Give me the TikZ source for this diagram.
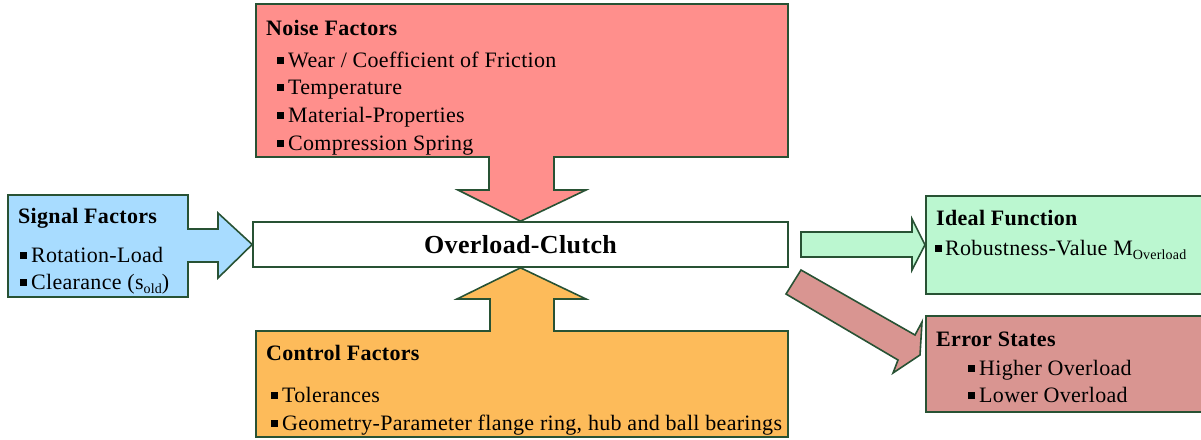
\documentclass[tikz,border=0pt]{standalone}
\usepackage{fontspec}
\setmainfont{Liberation Serif}[LetterSpace=1.4]
\definecolor{bord}{RGB}{40,82,52}
\definecolor{sigcol}{RGB}{168,220,255}
\definecolor{noicol}{RGB}{255,143,140}
\definecolor{ctlcol}{RGB}{253,187,90}
\definecolor{idecol}{RGB}{187,247,208}
\definecolor{errcol}{RGB}{217,149,145}
\newcommand\bulsq{\rule[3.5pt]{7pt}{7pt}}
\newcommand\subtx[1]{\raisebox{-4pt}{\fontsize{14}{14}\selectfont #1}}
\tikzset{
  shapeln/.style={draw=bord, line width=1.6pt, line join=miter},
  ttl/.style={anchor=base west, inner sep=0pt, font=\fontsize{22}{24}\selectfont\bfseries},
  itm/.style={anchor=base west, inner sep=0pt, font=\fontsize{22}{24}\selectfont},
}
\begin{document}
\begin{tikzpicture}[x=1pt,y=-1pt]
\useasboundingbox (0,0) rectangle (1201,439);
% center node
\node[shapeln, fill=white, minimum width=535pt, minimum height=45pt, inner sep=0pt,
      font=\fontsize{26}{30}\selectfont\bfseries] (clutch) at (520.5,244.5) {Overload-Clutch};
% signal factors with arrow
\coordinate (sigtip) at (clutch.west);
\draw[shapeln, fill=sigcol] (8,195) -- (188,195) -- (188,229) -- (218,229) -- (218,213)
  -- (sigtip) -- (218,278) -- (218,262) -- (188,262) -- (188,297) -- (8,297) -- cycle;
% noise factors with arrow
\coordinate (noitip) at (clutch.north);
\draw[shapeln, fill=noicol] (256,4) -- (788,4) -- (788,157) -- (554,157) -- (554,190)
  -- (586,190) -- (noitip) -- (458,190) -- (489,190) -- (489,157) -- (256,157) -- cycle;
% control factors with arrow
\coordinate (ctltip) at (clutch.south);
\draw[shapeln, fill=ctlcol] (256,331) -- (490,331) -- (490,299) -- (457,299) -- (ctltip)
  -- (586,299) -- (554,299) -- (554,331) -- (788,331) -- (788,437) -- (256,437) -- cycle;
% ideal function box
\node[shapeln, fill=idecol, minimum width=280pt, minimum height=98pt, inner sep=0pt,
      anchor=north west] (ideal) at (925,195) {};
% error states box
\node[shapeln, fill=errcol, minimum width=280pt, minimum height=96pt, inner sep=0pt,
      anchor=north west] (error) at (925,315) {};
% green arrow
\coordinate (idetip) at (ideal.west);
\draw[shapeln, fill=idecol] (801,232) -- (912,232) -- (912,219) -- (idetip)
  -- (912,270) -- (912,257) -- (801,257) -- cycle;
% red diagonal arrow
\coordinate (errtip) at (920,355);
\draw[shapeln, fill=errcol] (786,294) -- (801,270) -- (915,335) -- (922,322) -- (errtip)
  -- (893,373) -- (898,360) -- cycle;
% texts
\node[ttl] (sigt) at (18,223) {Signal Factors};
\node[itm] (sig1) at (20,262) {\bulsq\hspace{4pt}Rotation-Load};
\node[itm] (sig2) at (20,289) {\bulsq\hspace{4pt}Clearance (s\subtx{old})};
\node[ttl] (noit) at (266,35) {Noise Factors};
\node[itm] (noi1) at (277,67) {\bulsq\hspace{4pt}Wear / Coefficient of Friction};
\node[itm] (noi2) at (277,94) {\bulsq\hspace{4pt}Temperature};
\node[itm] (noi3) at (277,122) {\bulsq\hspace{4pt}Material-Properties};
\node[itm] (noi4) at (277,150) {\bulsq\hspace{4pt}Compression Spring};
\node[ttl] (ctlt) at (266,360) {Control Factors};
\node[itm] (ctl1) at (271,402) {\bulsq\hspace{4pt}Tolerances};
\node[itm] (ctl2) at (271,430) {\bulsq\hspace{4pt}Geometry-Parameter flange ring, hub and ball bearings};
\node[ttl] (idet) at (936,225) {Ideal Function};
\node[itm] (ide1) at (935,255) {\bulsq\hspace{3pt}Robustness-Value M\subtx{Overload}};
\node[ttl] (errt) at (936,346) {Error States};
\node[itm] (err1) at (968,375) {\bulsq\hspace{4pt}Higher Overload};
\node[itm] (err2) at (968,402) {\bulsq\hspace{4pt}Lower Overload};
\end{tikzpicture}
\end{document}
